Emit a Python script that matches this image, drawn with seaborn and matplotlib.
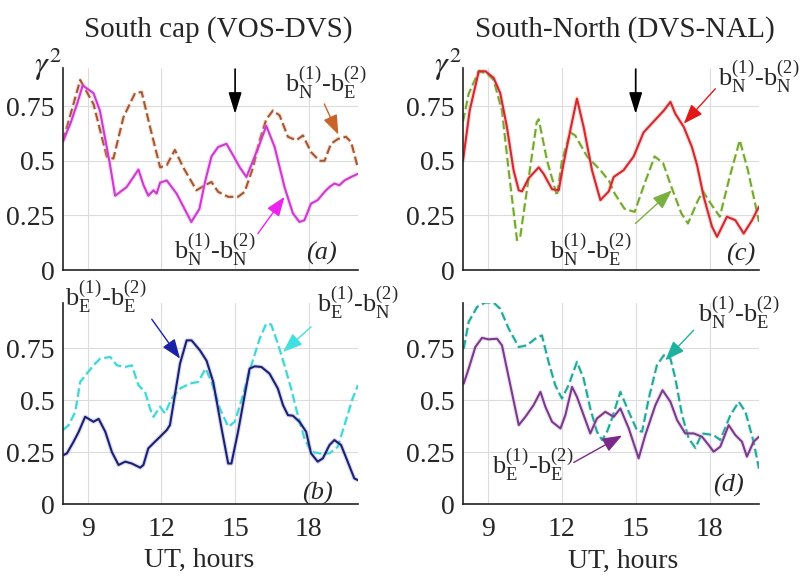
import numpy as np
import pandas as pd
import matplotlib
matplotlib.use('Agg')
import matplotlib.pyplot as plt
import matplotlib.patheffects as pe
import seaborn as sns

# ---------------- data (UT hours, gamma^2) ----------------
a_nn_h = [8.0, 8.3, 8.6, 8.8, 9.24, 9.5, 9.9, 10.12, 10.59, 11.07, 11.27, 11.47, 11.68, 11.81, 11.95,
          12.22, 12.62, 13.22, 13.55, 13.77, 14.04, 14.31, 14.65, 14.92, 15.19, 15.46, 15.73, 16.0,
          16.27, 16.61, 17.01, 17.35, 17.62, 17.82, 18.09, 18.36, 18.64, 18.84, 19.04, 19.24, 19.45,
          19.72, 19.99]
a_nn_v = [0.59, 0.67, 0.77, 0.845, 0.81, 0.73, 0.49, 0.34, 0.38, 0.46, 0.39, 0.34, 0.365, 0.35, 0.40,
          0.41, 0.35, 0.22, 0.28, 0.40, 0.52, 0.563, 0.578, 0.525, 0.47, 0.426, 0.50, 0.578,
          0.66, 0.563, 0.38, 0.26, 0.22, 0.228, 0.304, 0.32, 0.358, 0.38, 0.396, 0.388, 0.41,
          0.426, 0.44]

a_ne_h = [8.0, 8.7, 9.24, 9.78, 10.05, 10.46, 10.93, 11.2, 11.54, 11.95, 12.22, 12.55, 12.89, 13.43,
          13.77, 14.04, 14.31, 14.72, 15.12, 15.39, 15.73, 16.0, 16.27, 16.54, 16.81, 17.15, 17.49,
          17.76, 18.09, 18.43, 18.64, 18.9, 19.18, 19.51, 19.72, 19.99]
a_ne_v = [0.59, 0.87, 0.76, 0.52, 0.51, 0.70, 0.81, 0.815, 0.655, 0.47, 0.48, 0.55, 0.47, 0.365,
          0.388, 0.403, 0.358, 0.335, 0.335, 0.358, 0.47, 0.594, 0.69, 0.73, 0.708, 0.61, 0.594,
          0.616, 0.54, 0.50, 0.50, 0.578, 0.60, 0.61, 0.586, 0.47]

b_ee_h = [8.03, 8.16, 8.43, 8.64, 8.9, 9.24, 9.45, 9.72, 9.99, 10.26, 10.53, 10.8, 11.14, 11.27, 11.47,
          11.74, 11.95, 12.22, 12.35, 12.55, 12.76, 13.03, 13.23, 13.57, 13.84, 14.11, 14.45, 14.72,
          14.85, 15.12, 15.39, 15.59, 15.8, 16.07, 16.4, 16.74, 16.95, 17.15, 17.35, 17.62, 17.89,
          18.09, 18.36, 18.57, 18.84, 19.04, 19.31, 19.58, 19.85, 20.0]
b_ee_v = [0.236, 0.244, 0.30, 0.348, 0.42, 0.396, 0.41, 0.348, 0.25, 0.188, 0.204, 0.195, 0.175, 0.188, 0.268,
          0.30, 0.324, 0.356, 0.38, 0.524, 0.676, 0.788, 0.788, 0.74, 0.69, 0.588, 0.364, 0.195,
          0.195, 0.348, 0.524, 0.652, 0.663, 0.66, 0.628, 0.556, 0.476, 0.428, 0.425, 0.396, 0.348,
          0.244, 0.204, 0.22, 0.284, 0.308, 0.284, 0.204, 0.123, 0.115]

b_en_h = [8.0, 8.23, 8.5, 8.7, 8.97, 9.24, 9.51, 9.92, 10.19, 10.53, 10.8, 11.07, 11.34, 11.54, 11.68,
          11.95, 12.15, 12.42, 12.76, 13.16, 13.5, 13.8, 14.04, 14.38, 14.72, 14.99, 15.32, 15.66,
          16.0, 16.27, 16.47, 16.74, 17.01, 17.28, 17.55, 17.82, 18.09, 18.43, 18.84, 19.18, 19.45,
          19.78, 20.0]
b_en_v = [0.356, 0.38, 0.444, 0.588, 0.628, 0.668, 0.70, 0.708, 0.668, 0.66, 0.668, 0.572, 0.54, 0.46, 0.42,
          0.468, 0.436, 0.508, 0.556, 0.58, 0.588, 0.652, 0.588, 0.46, 0.372, 0.396, 0.524, 0.668,
          0.796, 0.869, 0.864, 0.772, 0.668, 0.556, 0.428, 0.316, 0.252, 0.244, 0.244, 0.276, 0.38,
          0.508, 0.572]

c_nn_h = [8.0, 8.27, 8.64, 8.91, 9.24, 9.51, 9.78, 10.05, 10.26, 10.39, 10.66, 11.07, 11.27, 11.61,
          11.88, 12.08, 12.35, 12.62, 12.89, 13.23, 13.57, 13.91, 14.11, 14.51, 14.92, 15.32, 15.73,
          16.14, 16.41, 16.61, 16.95, 17.28, 17.49, 17.76, 18.09, 18.3, 18.7, 19.04, 19.38, 19.72, 20.0]
c_nn_v = [0.50, 0.73, 0.91, 0.91, 0.88, 0.81, 0.655, 0.457, 0.365, 0.36, 0.42, 0.47, 0.44, 0.37,
          0.365, 0.49, 0.64, 0.785, 0.655, 0.457, 0.32, 0.36, 0.426, 0.457, 0.52, 0.63, 0.68,
          0.73, 0.77, 0.715, 0.655, 0.563, 0.48, 0.335, 0.20, 0.152, 0.244, 0.228, 0.167, 0.228, 0.29]

c_ne_h = [8.0, 8.23, 8.64, 8.97, 9.24, 9.58, 9.85, 10.19, 10.32, 10.59, 10.99, 11.07, 11.41, 11.81,
          12.01, 12.35, 12.55, 13.03, 13.57, 13.91, 14.15, 14.55, 14.96, 15.36, 15.77, 16.11, 16.45,
          16.85, 17.12, 17.53, 17.73, 18.07, 18.41, 18.81, 19.22, 19.55, 19.9, 20.0]
c_ne_v = [0.68, 0.807, 0.91, 0.90, 0.87, 0.73, 0.457, 0.137, 0.152, 0.365, 0.677, 0.69, 0.50, 0.34,
          0.50, 0.63, 0.616, 0.52, 0.457, 0.41, 0.35, 0.28, 0.266, 0.396, 0.52, 0.49, 0.38,
          0.26, 0.213, 0.32, 0.36, 0.30, 0.244, 0.426, 0.594, 0.457, 0.274, 0.22]

d_ee_h = [8.03, 8.23, 8.5, 8.77, 9.04, 9.38, 9.58, 9.92, 10.26, 10.53, 10.86, 11.14, 11.34, 11.61,
          11.95, 12.15, 12.42, 12.62, 12.89, 13.16, 13.43, 13.77, 14.11, 14.38, 14.72, 15.12, 15.39,
          15.8, 16.09, 16.41, 16.68, 17.01, 17.35, 17.69, 17.96, 18.16, 18.43, 18.77, 19.04, 19.31,
          19.51, 19.78, 20.0]
d_ee_v = [0.58, 0.652, 0.756, 0.80, 0.793, 0.796, 0.764, 0.572, 0.38, 0.42, 0.476, 0.54, 0.468, 0.396,
          0.364, 0.428, 0.564, 0.516, 0.428, 0.34, 0.412, 0.444, 0.42, 0.46, 0.364, 0.22, 0.332,
          0.476, 0.548, 0.492, 0.404, 0.34, 0.34, 0.324, 0.284, 0.252, 0.276, 0.38, 0.332, 0.30,
          0.228, 0.30, 0.324]

d_ne_h = [8.03, 8.23, 8.57, 8.9, 9.24, 9.51, 9.85, 10.26, 10.59, 10.93, 11.2, 11.47, 11.74, 12.01,
          12.28, 12.62, 12.89, 13.16, 13.43, 13.64, 13.84, 14.04, 14.38, 14.72, 15.05, 15.26, 15.53,
          15.86, 16.14, 16.41, 16.61, 16.88, 17.15, 17.42, 17.69, 18.16, 18.43, 18.84, 19.18, 19.45,
          19.78, 20.0]
d_ne_v = [0.748, 0.877, 0.949, 0.97, 0.97, 0.94, 0.845, 0.756, 0.764, 0.796, 0.812, 0.684, 0.572, 0.508,
          0.572, 0.684, 0.604, 0.46, 0.348, 0.308, 0.348, 0.412, 0.54, 0.444, 0.356, 0.348, 0.508,
          0.668, 0.716, 0.70, 0.604, 0.428, 0.316, 0.27, 0.34, 0.332, 0.308, 0.428, 0.492, 0.444,
          0.30, 0.17]

x_ticks = [9, 12, 15, 18]
y_ticks = [0, 0.25, 0.5, 0.75]
y_tick_labels = ['0', '0.25', '0.5', '0.75']
titles = ['South cap (VOS-DVS)', 'South-North (DVS-NAL)']
xlabel = 'UT, hours'

# ---------------- style ----------------
sns.set_style('whitegrid')
plt.rcParams['font.family'] = ['Liberation Serif', 'DejaVu Serif']
plt.rcParams['mathtext.fontset'] = 'stix'

fig = plt.figure(figsize=(8.01, 5.78), dpi=100)
W, H = 801, 578

def add_ax(x0, x1, y0, y1):
    return fig.add_axes([x0 / W, 1 - y1 / H, (x1 - x0) / W, (y1 - y0) / H])

ax_a = add_ax(63, 358, 68, 270)
ax_c = add_ax(463, 759, 68, 270)
ax_b = add_ax(63, 358, 303, 504)
ax_d = add_ax(463, 759, 303, 504)

def lab(s1, s2, s3, s4):
    return r'b$_\mathregular{%s}^\mathregular{(%s)}$-b$_\mathregular{%s}^\mathregular{(%s)}$' % (s1, s2, s3, s4)

def draw(ax, h, v, color, halo, dashed):
    df = pd.DataFrame({'h': h, 'v': v})
    ls = (0, (4.2, 1.8)) if dashed else '-'
    sns.lineplot(data=df, x='h', y='v', ax=ax, color=color, lw=1.5, linestyle=ls,
                 path_effects=[pe.Stroke(linewidth=3.2, foreground=halo, alpha=0.3), pe.Normal()])

def arrow(ax, start, tip, color, lw=1.0, hw=0.45, hl=1.2):
    ax.annotate('', xy=tip, xytext=start, annotation_clip=False,
                arrowprops=dict(arrowstyle='-|>,head_length=%g,head_width=%g' % (hl, hw),
                                color=color, lw=lw, shrinkA=0, shrinkB=0))

def setup(ax, top, ymax):
    ax.set_xlim(8.0, 20.0)
    ax.set_ylim(0, ymax)
    ax.set_xticks(x_ticks)
    ax.set_yticks(y_ticks)
    ax.set_yticklabels(y_tick_labels)
    ax.grid(True, color='#dcdcdc', lw=0.8)
    for s in ['top', 'right']:
        ax.spines[s].set_visible(False)
    for s in ['left', 'bottom']:
        ax.spines[s].set_color('#222222')
        ax.spines[s].set_linewidth(1.2)
    ax.tick_params(axis='both', labelsize=20, length=0, pad=6)
    ax.tick_params(axis='x', pad=9)
    ax.set_xlabel('')
    ax.set_ylabel('')
    if top:
        ax.set_xticklabels([])

# Panel (a)
draw(ax_a, a_ne_h, a_ne_v, '#a0583a', '#f0a060', True)
draw(ax_a, a_nn_h, a_nn_v, '#cc3ccc', '#f090f0', False)
setup(ax_a, True, 0.925)
arrow(ax_a, (15, 0.92), (15, 0.715), 'black', lw=1.2, hw=0.4, hl=1.3)
ax_a.text(18.7, 0.855, lab('N', '1', 'E', '2'), fontsize=19, ha='center', va='center')
arrow(ax_a, (18.63, 0.76), (19.2, 0.62), '#c8642a')
ax_a.text(14.18, 0.09, lab('N', '1', 'N', '2'), fontsize=19, ha='center', va='center')
arrow(ax_a, (15.93, 0.167), (17.01, 0.335), '#ee22ee')
ax_a.text(18.5, 0.075, '(a)', fontsize=19, style='italic', ha='center', va='center')

# Panel (c)
draw(ax_c, c_ne_h, c_ne_v, '#74a63c', '#d8f080', True)
draw(ax_c, c_nn_h, c_nn_v, '#d02a30', '#f08080', False)
setup(ax_c, True, 0.925)
arrow(ax_c, (15, 0.92), (15, 0.715), 'black', lw=1.2, hw=0.4, hl=1.3)
ax_c.text(19.99, 0.88, lab('N', '1', 'N', '2'), fontsize=19, ha='center', va='center')
arrow(ax_c, (18.23, 0.83), (16.95, 0.67), '#e01818')
ax_c.text(13.16, 0.09, lab('N', '1', 'E', '2'), fontsize=19, ha='center', va='center')
arrow(ax_c, (14.99, 0.213), (16.47, 0.365), '#7ab040')
ax_c.text(19.24, 0.07, '(c)', fontsize=19, style='italic', ha='center', va='center')

# Panel (b)
draw(ax_b, b_en_h, b_en_v, '#44d4d4', '#a0f0f0', True)
draw(ax_b, b_ee_h, b_ee_v, '#1c206e', '#8088d0', False)
setup(ax_b, False, 0.968)
ax_b.text(9.72, 0.995, lab('E', '1', 'E', '2'), fontsize=19, ha='center', va='center')
arrow(ax_b, (11.61, 0.89), (12.76, 0.70), '#1a22a8')
ax_b.text(19.99, 0.965, lab('E', '1', 'N', '2'), fontsize=19, ha='center', va='center')
arrow(ax_b, (18.09, 0.853), (16.95, 0.732), '#40e0e0')
ax_b.text(18.36, 0.05, '(b)', fontsize=19, style='italic', ha='center', va='center')

# Panel (d)
draw(ax_d, d_ne_h, d_ne_v, '#28a498', '#90e8e0', True)
draw(ax_d, d_ee_h, d_ee_v, '#7a3c8a', '#c8a0d8', False)
setup(ax_d, False, 0.968)
ax_d.text(19.18, 0.917, lab('N', '1', 'E', '2'), fontsize=19, ha='center', va='center')
arrow(ax_d, (17.35, 0.837), (16.2, 0.692), '#20b0a0')
ax_d.text(10.82, 0.185, lab('E', '1', 'E', '2'), fontsize=19, ha='center', va='center')
arrow(ax_d, (12.49, 0.20), (14.45, 0.33), '#7a2a8a')
ax_d.text(18.77, 0.09, '(d)', fontsize=19, style='italic', ha='center', va='center')

# figure-level texts
fig.text(218 / W, 1 - 37 / H, titles[0], fontsize=21, ha='center', va='baseline')
fig.text(625 / W, 1 - 37 / H, titles[1], fontsize=21, ha='center', va='baseline')
fig.text(48 / W, 1 - 64 / H, r'$\gamma^2$', fontsize=23, ha='center', va='center')
fig.text(448 / W, 1 - 64 / H, r'$\gamma^2$', fontsize=23, ha='center', va='center')
fig.text(199 / W, 1 - 567 / H, xlabel, fontsize=20, ha='center', va='baseline')
fig.text(623 / W, 1 - 568 / H, xlabel, fontsize=20, ha='center', va='baseline')

fig.savefig('out.png', dpi=100)
